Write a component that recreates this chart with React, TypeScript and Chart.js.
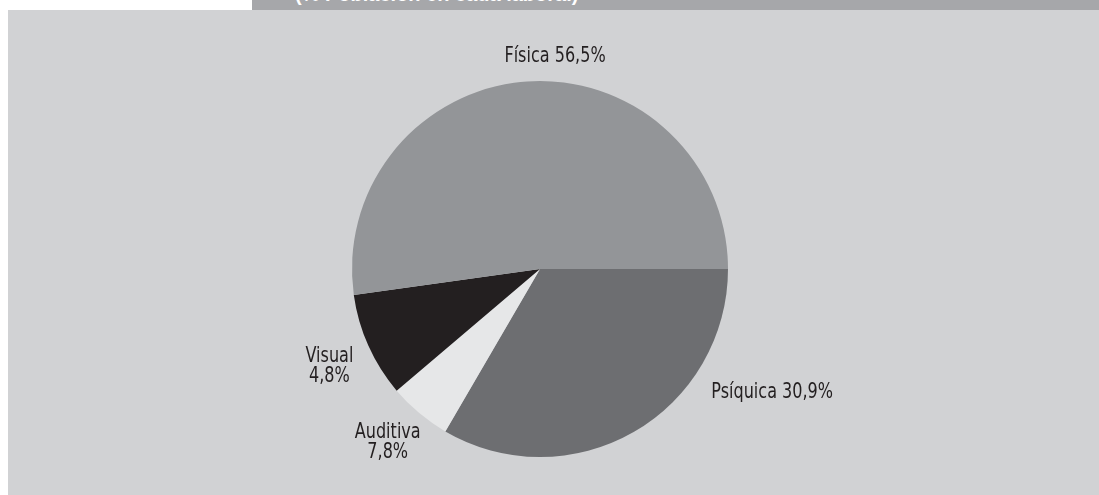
import React, { useEffect, useRef } from "react";
import { Chart, registerables } from "chart.js";

Chart.register(...registerables);

// Data
const categories: string[] = ["Psíquica", "Auditiva", "Visual", "Física"];
const sliceValues: number[] = [33.4, 5.4, 9.0, 52.2];
const labelLines: string[][] = [["Psíquica 30,9%"], ["Auditiva", "7,8%"], ["Visual", "4,8%"], ["Física 56,5%"]];
const sliceColors: string[] = ["#6d6e71", "#e6e7e8", "#231f20", "#939598"];
// label anchor offsets in units of the pie radius (relative to its centre)
const labelOffsets: number[][] = [
  [1.235, 0.655],
  [-0.81, 0.925],
  [-1.12, 0.52],
  [0.08, -1.13],
];
const headerText = "(% Población en cada laboral)";

const FONT = "'DejaVu Sans Condensed', 'DejaVu Sans', sans-serif";

const labelPlugin = {
  id: "sliceLabels",
  afterDraw(chart: any) {
    const ctx = chart.ctx;
    const meta = chart.getDatasetMeta(0);
    const arc0 = meta.data[0];
    if (!arc0) return;
    const cx = arc0.x;
    const cy = arc0.y;
    const r = arc0.outerRadius;
    ctx.save();
    ctx.fillStyle = "#231f20";
    ctx.font = "21px " + FONT;
    ctx.textAlign = "center";
    ctx.textBaseline = "middle";
    labelLines.forEach((lines, i) => {
      const [ox, oy] = labelOffsets[i];
      const x = cx + ox * r;
      const y = cy + oy * r;
      const lh = 20;
      const start = y - ((lines.length - 1) * lh) / 2;
      lines.forEach((t, j) => {
        ctx.save();
        ctx.translate(x, start + j * lh);
        ctx.scale(0.85, 1);
        ctx.fillText(t, 0, 0);
        ctx.restore();
      });
    });
    ctx.restore();
  },
};

export default function App() {
  const ref = useRef<HTMLCanvasElement | null>(null);
  useEffect(() => {
    if (!ref.current) return;
    const chart = new Chart(ref.current, {
      type: "pie",
      data: {
        labels: categories,
        datasets: [
          {
            data: sliceValues,
            backgroundColor: sliceColors,
            borderWidth: 0,
          },
        ],
      },
      options: {
        responsive: false,
        animation: false,
        rotation: 90,
        layout: { padding: { top: 71, bottom: 38, left: 0, right: 27 } },
        plugins: {
          legend: { display: false },
          tooltip: { enabled: false },
        },
      },
      plugins: [labelPlugin],
    });
    return () => chart.destroy();
  }, []);

  return (
    <div style={{ position: "fixed", left: 0, top: 0, width: 1099, height: 495, background: "#ffffff", overflow: "hidden" }}>
      <div
        style={{
          position: "absolute",
          left: 252,
          top: 0,
          width: 847,
          height: 10,
          background: "#a6a7aa",
          overflow: "hidden",
        }}
      >
        <span
          style={{
            position: "absolute",
            left: 43,
            top: -16,
            color: "#ffffff",
            fontFamily: "'Liberation Sans', Arial, sans-serif",
            fontWeight: "bold",
            fontSize: 20,
            whiteSpace: "nowrap",
            lineHeight: "20px",
          }}
        >
          {headerText}
        </span>
      </div>
      <div style={{ position: "absolute", left: 8, top: 10, width: 1091, height: 485, background: "#d1d2d4" }}>
        <canvas ref={ref} width={1091} height={485} style={{ display: "block" }} />
      </div>
    </div>
  );
}
